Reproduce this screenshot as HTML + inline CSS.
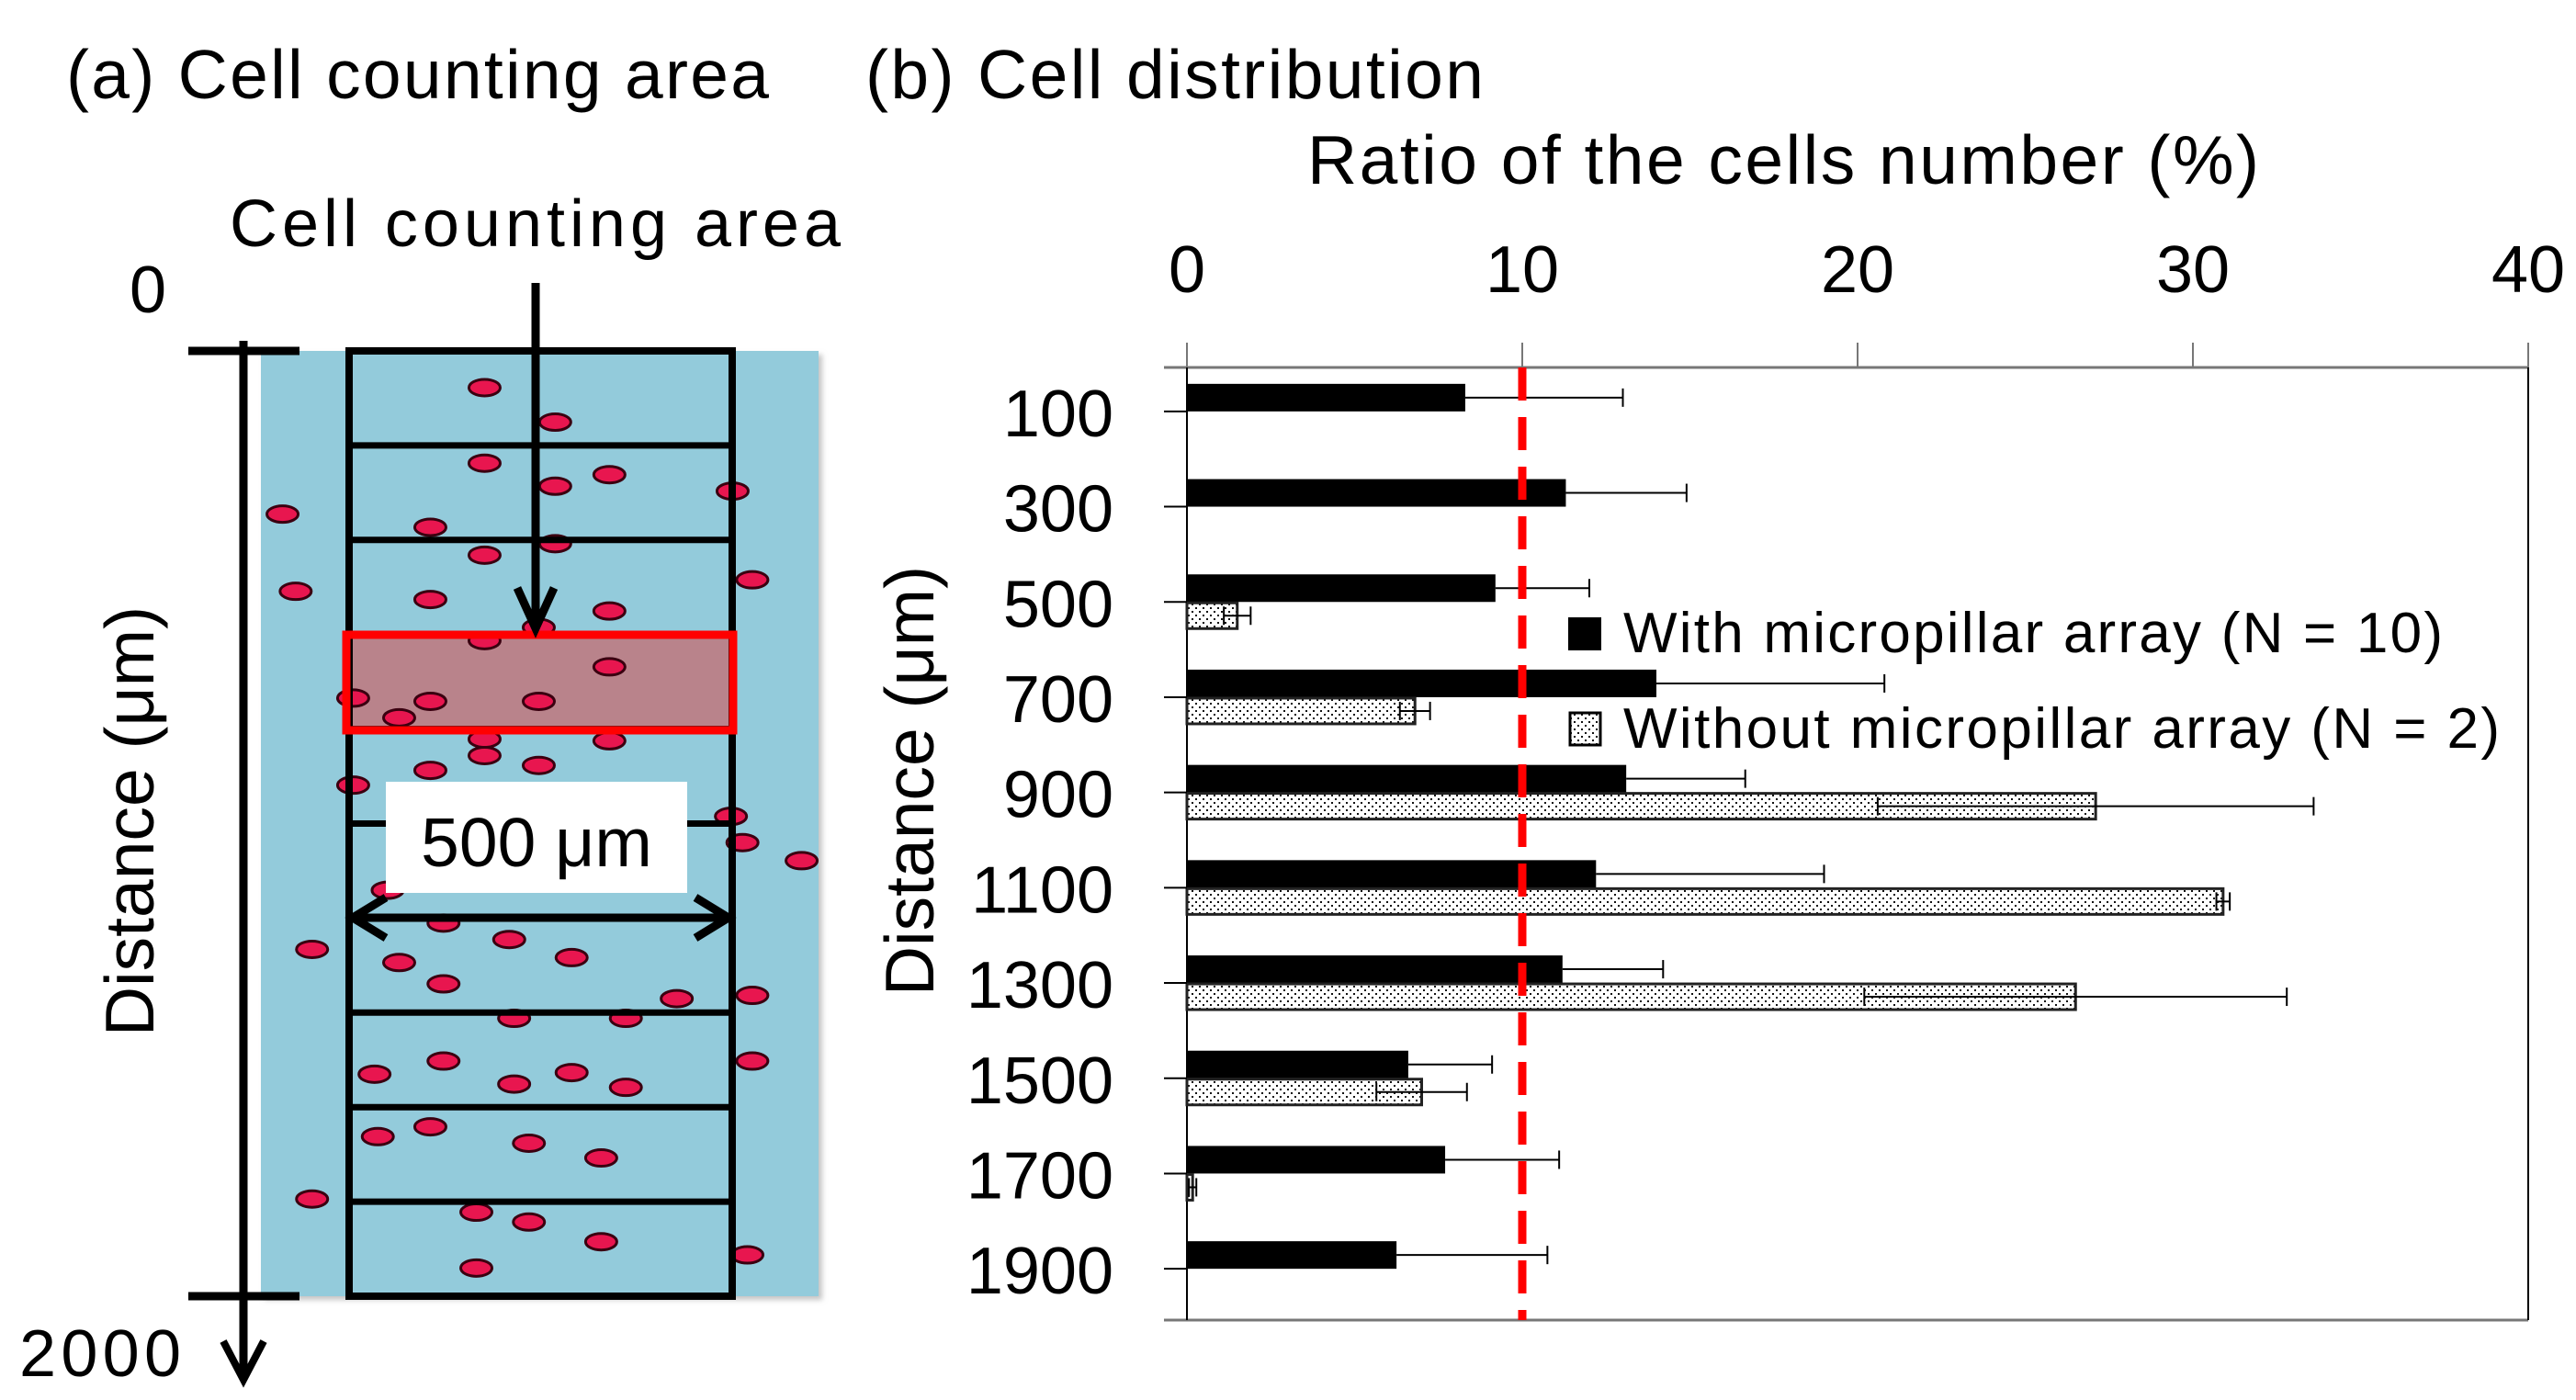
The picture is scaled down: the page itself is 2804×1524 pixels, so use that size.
<!DOCTYPE html>
<html><head><meta charset="utf-8"><style>
html,body{margin:0;padding:0;background:#fff;}
svg{display:block;font-family:"Liberation Sans",sans-serif;}
</style></head><body>
<svg id="fig" width="2804" height="1524" viewBox="0 0 2804 1524" xmlns="http://www.w3.org/2000/svg">
<defs>
<pattern id="dots" width="8" height="8" patternUnits="userSpaceOnUse">
<rect width="8" height="8" fill="#fff"/>
<rect x="1" y="1" width="2" height="2" fill="#111"/>
<rect x="5" y="5" width="2" height="2" fill="#111"/>
</pattern>
<filter id="sh" x="-5%" y="-5%" width="110%" height="110%"><feDropShadow dx="4" dy="4" stdDeviation="3" flood-color="#888" flood-opacity="0.5"/></filter>
</defs>

<!-- Panel titles -->
<text x="72" y="107" font-size="75" textLength="765">(a) Cell counting area</text>
<text x="942" y="107" font-size="75" textLength="673">(b) Cell distribution</text>

<!-- Panel A diagram -->
<g id="panelA">
<rect x="284" y="382" width="607" height="1029" fill="#93CBDB" filter="url(#sh)"/>
<rect x="377" y="691" width="421" height="104" fill="#B9838B"/>
<g id="cells"></g>
<g id="grid"></g>
<rect x="377" y="691" width="421" height="104" fill="none" stroke="#FF0000" stroke-width="9"/>
<line x1="265" y1="371" x2="265" y2="1500" stroke="#000" stroke-width="9"/>
<polyline points="243,1460 265,1502 287,1460" fill="none" stroke="#000" stroke-width="8"/>
<line x1="205" y1="382" x2="326" y2="382" stroke="#000" stroke-width="9"/>
<line x1="205" y1="1411" x2="326" y2="1411" stroke="#000" stroke-width="9"/>
<text x="161" y="340" font-size="72" text-anchor="middle">0</text>
<text x="21" y="1498" font-size="72" textLength="176">2000</text>
<text transform="translate(167,894) rotate(-90)" font-size="75" text-anchor="middle">Distance (μm)</text>
<text x="250" y="268" font-size="72" textLength="665">Cell  counting area</text>
<line x1="583" y1="308" x2="583" y2="680" stroke="#000" stroke-width="9"/>
<polyline points="563,640 583,684 603,640" fill="none" stroke="#000" stroke-width="9"/>
<rect x="420" y="851" width="328" height="121" fill="#fff"/>
<text x="584" y="943" font-size="75" text-anchor="middle">500 μm</text>
<line x1="384" y1="999" x2="793" y2="999" stroke="#000" stroke-width="9"/>
<polyline points="420,977 384,999 420,1021" fill="none" stroke="#000" stroke-width="9"/>
<polyline points="757,977 793,999 757,1021" fill="none" stroke="#000" stroke-width="9"/>
</g>

<!-- Panel B chart -->
<g id="chart">
<text x="1423" y="200" font-size="75" textLength="1036">Ratio of the cells number (%)</text>
<text transform="translate(1016,850) rotate(-90)" font-size="75" text-anchor="middle">Distance (μm)</text>
<g id="frame"></g>
<g id="bars"></g>
<g id="ticks"></g>
<line id="refline" stroke="#FF0000" stroke-width="9" stroke-dasharray="36,18"/>
<g>
<rect x="1707" y="672" width="36" height="36" fill="#000"/>
<text x="1767" y="710" font-size="62" textLength="892">With micropillar array (N = 10)</text>
<rect x="1709" y="776" width="33" height="35" fill="url(#dots)" stroke="#000" stroke-width="3"/>
<text x="1767" y="814" font-size="62" textLength="954">Without micropillar array (N = 2)</text>
</g>
</g>
</svg>
<script>
const categories = ["100","300","500","700","900","1100","1300","1500","1700","1900"];
const withValues = [8.3, 11.3, 9.2, 14.0, 13.1, 12.2, 11.2, 6.6, 7.7, 6.25];
const withErrors = [4.7, 3.6, 2.8, 6.8, 3.55, 6.8, 3.0, 2.5, 3.4, 4.5];
const withoutValues = [0, 0, 1.5, 6.8, 27.1, 30.9, 26.5, 7.0, 0.17, 0];
const withoutErrors = [0, 0, 0.4, 0.45, 6.5, 0.2, 6.3, 1.35, 0.11, 0];
const xTicks = [0, 10, 20, 30, 40];
const refValue = 10;

const NS = "http://www.w3.org/2000/svg";
const X0 = 1292, X1 = 2752, XMAX = 40, TOP = 400, BOT = 1437;
const band = (BOT - TOP) / categories.length;
function xs(v){ return X0 + (v / XMAX) * (X1 - X0); }
function yc(i){ return TOP + band * (i + 0.5) - 4; }
function mk(tag, attrs, parent){
  const e = document.createElementNS(NS, tag);
  for (const k in attrs) e.setAttribute(k, attrs[k]);
  parent.appendChild(e); return e;
}
const frame = document.getElementById('frame');
const bars = document.getElementById('bars');
const ticks = document.getElementById('ticks');

let f = mk('line', {x1:1267,y1:TOP,x2:X1,y2:TOP,stroke:'#777','stroke-width':3}, frame);
 
f = mk('line', {x1:1267,y1:BOT,x2:X1,y2:BOT,stroke:'#777','stroke-width':3}, frame);
 
f = mk('line', {x1:X1,y1:TOP-27,x2:X1,y2:BOT,stroke:'#000','stroke-width':2}, frame);
 
f = mk('line', {x1:X0,y1:TOP-27,x2:X0,y2:BOT,stroke:'#000','stroke-width':2}, frame);
 

xTicks.forEach(function(t){
  const x = xs(t);
  const l = mk('line', {x1:x,y1:TOP-27,x2:x,y2:TOP,stroke:'#777','stroke-width':2}, ticks);
   
  const tx = mk('text', {x:x,y:318,'font-size':72,'text-anchor':'middle'}, ticks);
   
  tx.textContent = String(t);
});

categories.forEach(function(c, i){
  const y = yc(i);
  const l = mk('line', {x1:1267,y1:y,x2:X0,y2:y,stroke:'#000','stroke-width':2}, ticks);
   
  const tx = mk('text', {x:1212,y:y+27,'font-size':72,'text-anchor':'end'}, ticks);
   
  tx.textContent = c;

  // with bar
  const wv = withValues[i];
  const b = mk('rect', {x:X0,y:y-30,width:xs(wv)-X0,height:30,fill:'#000'}, bars);
   
  const we = xs(wv + withErrors[i]);
  const e1 = mk('line', {x1:xs(wv),y1:y-15,x2:we,y2:y-15,stroke:'#000','stroke-width':2}, bars);
   
  const c1 = mk('line', {x1:we,y1:y-25,x2:we,y2:y-5,stroke:'#000','stroke-width':2}, bars);
   

  // without bar
  const ov = withoutValues[i];
  if (ov > 0) {
    const d = mk('rect', {x:X0,y:y+1,width:Math.max(xs(ov)-X0,3),height:28,fill:'url(#dots)',stroke:'#222','stroke-width':3}, bars);
     
    const lo = xs(ov - withoutErrors[i]), hi = xs(ov + withoutErrors[i]);
    const e2 = mk('line', {x1:lo,y1:y+15,x2:hi,y2:y+15,stroke:'#000','stroke-width':2}, bars);
     
    const c2 = mk('line', {x1:hi,y1:y+5,x2:hi,y2:y+25,stroke:'#000','stroke-width':2}, bars);
     
    const c3 = mk('line', {x1:lo,y1:y+5,x2:lo,y2:y+25,stroke:'#000','stroke-width':2}, bars);
     
  }
});

const rl = document.getElementById('refline');
rl.setAttribute('x1', xs(refValue)); rl.setAttribute('x2', xs(refValue));
rl.setAttribute('y1', TOP); rl.setAttribute('y2', BOT);

// Panel A: grid and cells
const grid = document.getElementById('grid');
const gx0 = 380, gx1 = 797, gy0 = 382, gy1 = 1411, rows = 10;
for (let k = 1; k < rows; k++) {
  const y = gy0 + (gy1 - gy0) * k / rows;
  const l = mk('line', {x1:gx0,y1:y,x2:gx1,y2:y,stroke:'#000','stroke-width':7}, grid);
   
}
const gr = mk('rect', {x:gx0,y:gy0,width:gx1-gx0,height:gy1-gy0,fill:'none',stroke:'#000','stroke-width':8}, grid);
 

const cellPos = [[295,236],[338,257],[295,282],[338,296],[371,289],[446,299],[172,313],[262,321],[338,331],[295,338],[458,353],[180,360],[262,365],[371,372],[328,382],[295,390],[371,406],[215,425],[262,427],[328,427],[243,437],[295,450],[371,451],[262,469],[295,460],[328,466],[215,478],[445,497],[488,524],[452,513],[190,578],[243,586],[270,599],[310,572],[348,583],[270,562],[412,608],[458,606],[313,620],[381,620],[228,654],[270,646],[313,660],[348,653],[381,662],[458,646],[230,692],[262,686],[322,696],[366,705],[190,730],[290,738],[322,744],[366,756],[290,772],[455,764],[236,542]];
const cells = document.getElementById('cells');
cellPos.forEach(function(p){
  const e = mk('ellipse', {cx:p[0]*1.788,cy:p[1]*1.788,rx:17,ry:9,fill:'#E8164F',stroke:'#3a0010','stroke-width':3}, cells);
   
});
</script>
</body></html>
